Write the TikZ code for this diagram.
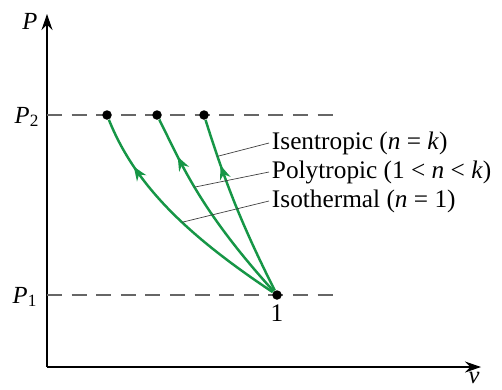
\documentclass[tikz,border=0pt]{standalone}
\usepackage{fontspec}
\setmainfont{Liberation Serif}
\usetikzlibrary{arrows.meta,decorations.markings}
\definecolor{procgreen}{RGB}{22,150,70}
\tikzset{
    pv diagram/.style = {x=0.02cm, y=-0.02cm, >={Stealth[length=3.2mm, width=2.2mm]}},
    axis/.style       = {semithick, ->},
    level/.style      = {thick, gray!80!black, dash pattern=on 8.5pt off 5.5pt},
    state/.style      = {circle, fill=black, inner sep=0pt, minimum size=1.9mm},
    process/.style    = {line width=1.4pt, procgreen,
                         decoration={markings,
                           mark=at position #1 with {\arrow{Stealth[length=2.8mm, width=2.2mm]}}},
                         postaction={decorate}},
    leader/.style     = {thin, black!75},
    txt/.style        = {font=\fontsize{14.4}{16}\selectfont, inner sep=1.5pt},
    axlbl/.style      = {font=\fontsize{14}{16}\selectfont\itshape, inner sep=0pt}
}

\begin{document}
\begin{tikzpicture}[pv diagram]
\useasboundingbox (0,0) rectangle (502,389);

% axes
\coordinate (origin) at (47,367);
\coordinate (ptop) at (47,14);
\coordinate (vend) at (481,367);
\draw[axis] (origin) -- (ptop);
\draw[axis] (origin) -- (vend);
\node[axlbl] (plbl) at (30,21) {P};
\node[axlbl] (vlbl) at (474,378) {v};

% pressure levels
\coordinate (p2start) at (47,115);
\coordinate (p2end) at (334,115);
\coordinate (p1start) at (47,295);
\coordinate (p1end) at (334,295);
\draw[level] (p2start) -- (p2end);
\draw[level] (p1start) -- (p1end);
\node[axlbl] (p2lbl) at (27,117) {P\textsubscript{\upshape 2}};
\node[axlbl] (p1lbl) at (25,297) {P\textsubscript{\upshape 1}};

% states
\node[state] (s1) at (277,295) {};
\node[txt, below=1pt] (s1lbl) at (s1.south) {1};
\node[state] (s2t) at (107,115) {};
\node[state] (s2p) at (157,115) {};
\node[state] (s2s) at (204,115) {};

% processes
\draw[process=0.78] (s1) .. controls (187,235) and (135,185) .. coordinate[pos=0.42] (isotpt) (s2t);
\draw[process=0.8] (s1) .. controls (200,210) and (182,165) .. coordinate[pos=0.53] (polypt) (s2p);
\draw[process=0.74] (s1) .. controls (242,225) and (226,185) .. coordinate[pos=0.8] (isenpt) (s2s);

% labels
\node[txt, anchor=west] (isen) at (269,143) {Isentropic (\textit{n} = \textit{k})};
\node[txt, anchor=west] (poly) at (269,172) {Polytropic (1 < \textit{n} < \textit{k})};
\node[txt, anchor=west] (isot) at (269,201) {Isothermal (\textit{n} = 1)};
\draw[leader] (isenpt) -- (isen.west);
\draw[leader] (polypt) -- (poly.west);
\draw[leader] (isotpt) -- (isot.west);

\end{tikzpicture}
\end{document}
